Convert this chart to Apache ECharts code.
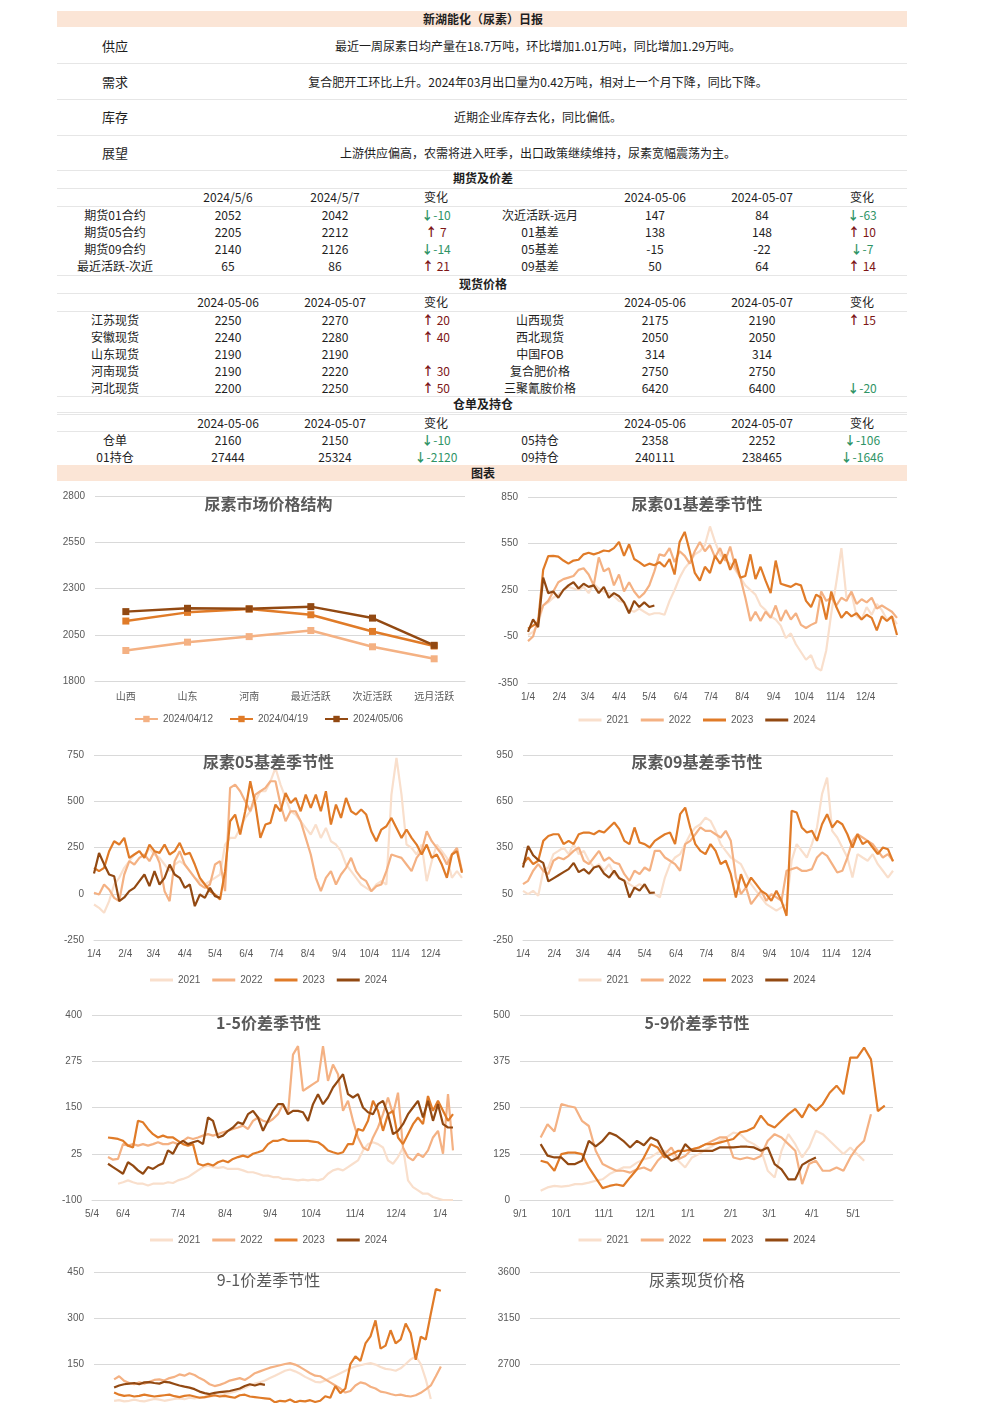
<!DOCTYPE html>
<html><head><meta charset="utf-8">
<script src="https://cdn.jsdelivr.net/npm/echarts@6/dist/echarts.min.js"></script>
<style>
html,body{margin:0;padding:0;background:#fff;}
#page{position:relative;width:992px;height:1560px;overflow:hidden;font-family:"Noto Sans CJK SC","Noto Sans",sans-serif;}
.t{position:absolute;transform:translate(-50%,-50%);white-space:nowrap;font-size:12px;line-height:14px;color:#1e1e1e;}
.b{font-weight:bold;}
.ln{position:absolute;height:1px;background:#e6e6e6;}
.band{position:absolute;background:#FBE5D6;}
.ch{position:absolute;}
</style></head>
<body><div id="page"></div>
<script>
// ===================== DATA =====================
const REPORT_TITLE = '新湖能化（尿素）日报';
const SUMMARY_LABELS = ['供应','需求','库存','展望'];
const SUMMARY_TEXTS = [
  '最近一周尿素日均产量在18.7万吨，环比增加1.01万吨，同比增加1.29万吨。',
  '复合肥开工环比上升。2024年03月出口量为0.42万吨，相对上一个月下降，同比下降。',
  '近期企业库存去化，同比偏低。',
  '上游供应偏高，农需将进入旺季，出口政策继续维持，尿素宽幅震荡为主。'
];
const SECTION_TITLES = ['期货及价差','现货价格','仓单及持仓','图表'];

const FUT_HEAD_L = ['2024/5/6','2024/5/7','变化'];
const FUT_ROWS_L = [['期货01合约',2052,2042,-10],['期货05合约',2205,2212,7],['期货09合约',2140,2126,-14],['最近活跃-次近',65,86,21]];
const FUT_HEAD_R = ['2024-05-06','2024-05-07','变化'];
const FUT_ROWS_R = [['次近活跃-远月',147,84,-63],['01基差',138,148,10],['05基差',-15,-22,-7],['09基差',50,64,14]];

const SPOT_HEAD_L = ['2024-05-06','2024-05-07','变化'];
const SPOT_ROWS_L = [['江苏现货',2250,2270,20],['安徽现货',2240,2280,40],['山东现货',2190,2190,null],['河南现货',2190,2220,30],['河北现货',2200,2250,50]];
const SPOT_HEAD_R = ['2024-05-06','2024-05-07','变化'];
const SPOT_ROWS_R = [['山西现货',2175,2190,15],['西北现货',2050,2050,null],['中国FOB',314,314,null],['复合肥价格',2750,2750,null],['三聚氰胺价格',6420,6400,-20]];

const WH_HEAD_L = ['2024-05-06','2024-05-07','变化'];
const WH_ROWS_L = [['仓单',2160,2150,-10],['01持仓',27444,25324,-2120]];
const WH_HEAD_R = ['2024-05-06','2024-05-07','变化'];
const WH_ROWS_R = [['05持仓',2358,2252,-106],['09持仓',240111,238465,-1646]];

// chart 1: price structure
const STRUCT_CATS = ['山西','山东','河南','最近活跃','次近活跃','远月活跃'];
const STRUCT_NAMES = ['2024/04/12','2024/04/19','2024/05/06'];
const STRUCT_0412 = [1965,2010,2040,2073,1985,1920];
const STRUCT_0419 = [2124,2171,2189,2158,2068,1989];
const STRUCT_0506 = [2175,2193,2190,2202,2140,1993];
const STRUCT_YTICKS = [1800,2050,2300,2550,2800];

const YEARS = ['2021','2022','2023','2024'];
const STEP = 5;
const MONTH4_POS = [0,31,59,90,120,151,181,212,243,273,304,334];
const MONTH4_LBL = ['1/4','2/4','3/4','4/4','5/4','6/4','7/4','8/4','9/4','10/4','11/4','12/4'];

// 01 basis
const B01_YTICKS = [-350,-50,250,550,850];
const B01_2021 = [-40,-20,30,150,170,200,220,250,270,260,250,270,230,290,260,240,230,210,180,170,120,110,130,110,90,100,100,90,180,250,330,390,430,480,500,540,660,560,480,440,420,380,330,280,250,220,150,120,80,60,20,-60,-30,-100,-150,-200,-170,-250,-270,-140,100,300,520,200,230,80,60,140,90,160,120,60,80,30];
const B01_2022 = [-80,-50,60,150,180,240,300,320,330,340,380,390,350,280,460,370,390,280,350,240,300,240,200,230,280,370,480,470,520,430,500,470,420,500,560,500,540,460,520,440,530,400,330,200,50,110,50,110,70,150,50,120,60,100,25,5,25,40,240,180,200,150,200,180,240,160,190,170,200,130,150,130,110,70];
const B01_2023 = [0,20,40,380,468,470,465,440,420,440,445,480,490,480,490,505,500,520,560,470,545,450,430,405,420,410,430,400,450,350,560,625,500,360,310,400,360,470,420,480,380,450,330,340,480,320,400,310,230,440,290,280,270,290,280,180,140,220,200,60,240,140,70,110,80,100,60,90,70,-10,80,50,80,-40];
const B01_2024 = [-20,60,10,330,230,240,200,250,280,300,260,290,270,280,230,270,200,230,210,170,100,180,140,170,140,150];

// 05 basis
const B05_YTICKS = [-250,0,250,500,750];
const B05_2021 = [-58,-76,-103,-40,50,86,140,176,212,230,194,248,212,194,158,122,158,176,158,122,86,68,50,68,86,104,266,302,302,356,410,446,500,554,554,608,680,590,518,446,428,392,356,320,374,302,356,284,266,230,158,122,86,50,32,14,50,68,50,536,734,536,266,248,212,266,68,176,266,230,194,86,122,86];
const B05_2022 = [5,-4,50,23,-22,-40,104,176,158,194,212,176,230,167,14,-40,176,230,158,122,86,50,32,50,158,176,14,572,590,554,500,446,536,554,572,608,608,482,392,446,446,392,302,212,86,14,86,122,50,104,140,194,122,86,68,14,41,50,122,212,203,194,158,122,194,230,338,284,248,212,158,212,248,122];
const B05_2023 = [140,122,140,230,284,266,302,194,212,230,194,266,230,221,266,212,230,275,212,221,158,86,50,14,-4,-31,122,392,428,320,446,608,482,302,374,383,482,446,545,491,518,446,536,464,536,446,554,374,482,410,518,446,428,455,428,338,284,347,365,410,356,302,347,302,266,212,266,194,212,158,86,212,230,113];
const B05_2024 = [110,220,160,104,95,-40,-20,14,32,68,104,41,122,50,86,158,104,86,32,50,-67,-4,-22,32,-13,-22];

// 09 basis
const B09_YTICKS = [-250,50,350,650,950];
const B09_2021 = [69,48,69,37,199,220,307,328,350,307,372,307,328,264,220,242,199,242,177,155,134,112,91,112,91,69,48,26,155,242,285,307,372,436,480,501,544,523,458,372,328,285,264,242,177,112,69,26,-17,-38,-60,-38,-17,264,372,328,285,372,480,696,804,458,415,350,285,155,307,285,264,307,242,199,155,199];
const B09_2022 = [112,134,199,242,199,177,264,285,274,296,328,350,264,242,285,328,264,285,253,242,177,134,199,177,220,199,328,328,285,264,242,199,372,393,436,480,458,458,436,415,458,393,155,48,91,-17,26,69,4,48,26,4,199,210,220,199,199,210,285,318,296,242,188,199,285,393,436,415,393,372,328,285,307,264];
const B09_2023 = [242,285,242,264,393,425,436,436,372,393,372,436,447,447,436,458,447,480,512,469,393,372,480,382,372,350,393,415,436,447,372,566,609,480,372,328,307,372,328,242,264,177,26,177,91,155,112,69,48,4,69,4,-93,588,577,480,447,458,393,501,566,480,523,501,436,350,436,372,393,350,307,350,339,260];
const B09_2024 = [220,360,300,270,250,130,150,170,190,210,250,190,210,180,220,230,180,155,200,150,134,26,90,70,112,55,58];

// 1-5 spread
const S15_YTICKS = [-100,25,150,275,400];
const S15_XPOS = [0,31,86,133,178,219,263,304,348];
const S15_XLBL = ['5/4','6/4','7/4','8/4','9/4','10/4','11/4','12/4','1/4'];
const S15_START = [26,16,16,16];
const S15_2021 = [-56,-52,-47,-52,-56,-56,-61,-56,-56,-56,-52,-54,-47,-43,-38,-29,-20,-11,-7,-11,-13,-11,-16,-16,-16,-20,-25,-25,-29,-34,-34,-38,-38,-43,-43,-45,-47,-45,-47,-45,-47,-43,-29,-20,-16,-20,-11,-2,7,34,51,56,51,42,7,-2,16,42,-47,-65,-74,-83,-83,-92,-96,-100,-100,-100];
const S15_2022 = [16,9,11,51,47,51,47,51,47,51,56,51,51,56,51,60,69,65,69,74,78,74,78,83,87,92,96,101,92,114,123,114,110,119,132,159,132,293,316,195,204,213,222,316,222,266,240,141,168,114,69,42,34,69,96,132,177,132,190,42,16,7,25,16,34,69,87,25,186,34];
const S15_2023 = [69,67,65,60,47,42,114,110,92,78,69,74,69,69,60,51,47,51,-2,-7,-2,-7,2,7,2,11,16,20,16,25,29,34,51,60,60,65,60,60,60,60,60,58,56,47,34,29,25,29,51,51,92,87,114,168,141,87,132,141,69,51,78,105,123,105,181,141,168,141,114,132];
const S15_2024 = [-2,-11,-20,-29,2,-7,-20,-29,-11,-16,-7,-1,34,25,51,60,51,56,60,51,123,114,69,74,87,96,110,105,132,141,123,87,114,141,159,159,132,141,141,137,114,159,186,159,177,204,222,240,186,177,186,150,137,132,159,168,132,78,87,105,132,150,168,123,168,114,159,105,96,96];

// 5-9 spread
const S59_YTICKS = [0,125,250,375,500];
const S59_XPOS = [0,30,61,91,122,153,181,212,242];
const S59_XLBL = ['9/1','10/1','11/1','12/1','1/1','2/1','3/1','4/1','5/1'];
const S59_START = 15;
const S59_2021 = [25,34,38,36,38,43,43,47,52,56,70,79,88,88,101,110,115,128,133,124,106,88,115,124,137,146,160,169,182,178,160,151,137,79,61,133,178,151,115,142,187,178,160,142,124,142,124,106];
const S59_2022 = [169,205,185,259,254,250,214,200,133,97,88,79,79,74,83,88,79,106,124,142,110,119,137,142,151,160,169,169,115,110,115,110,119,160,178,169,151,133,43,97,106,79,79,88,79,115,142,160,232];
const S59_2023 = [106,101,79,124,128,128,124,88,60,32,38,42,38,61,83,115,151,142,115,124,133,133,137,142,151,151,155,160,165,183,187,196,228,205,196,214,232,246,223,259,241,259,290,309,286,385,385,412,380,240,255];
const S59_2024 = [151,120,115,115,97,97,106,160,145,160,182,174,160,142,160,148,169,160,124,106,115,151,133,133,133,133,142,142,142,144,144,142,133,142,97,83,56,56,95,106,115];

// 9-1 spread
const S91_YTICKS = [-150,0,150,300,450];
const S91_START = 20;
const S91_2021 = [30,32,28,30,34,30,28,32,36,34,30,33,36,38,35,40,38,42,40,44,46,48,52,56,60,66,72,80,86,90,96,104,112,120,128,132,126,118,108,100,92,90,96,104,112,120,128,136,142,146,150,153,148,140,134,132,128,136,150,165,175,150,100,36];
const S91_2022 = [100,110,95,88,84,90,86,92,98,100,96,104,108,116,112,120,114,104,96,84,78,82,88,96,100,104,98,108,120,126,132,138,142,146,150,153,148,140,130,120,112,110,100,90,80,70,57,62,80,90,86,76,70,60,57,52,48,50,46,44,48,56,67,80,110,142];
const S91_2023 = [57,50,46,48,44,46,50,47,44,46,48,50,45,42,46,48,44,40,42,45,48,44,46,43,40,48,50,44,42,40,38,36,25,30,28,34,25,30,28,32,26,30,45,40,78,55,70,150,175,160,217,240,292,200,210,260,217,230,282,250,164,239,230,314,394,389];
const S91_2024 = [73,80,84,86,88,84,90,91,88,86,92,90,85,80,76,73,68,60,55,52,56,58,60,62,66,70,78,84,80,85,82];

// spot price chart
const SPOT_YTICKS = [1800,2250,2700,3150,3600];

// ===================== LAYOUT / RENDER =====================
const FONT = '"Noto Sans CJK SC","Noto Sans",sans-serif';
const page = document.getElementById('page');
function put(x, y, html, cls, style){
  const d = document.createElement('div');
  d.className = 't' + (cls ? ' ' + cls : '');
  d.style.left = x + 'px'; d.style.top = y + 'px';
  d.innerHTML = html;
  if (style) Object.assign(d.style, style);
  page.appendChild(d);
}
function hline(y){ const d=document.createElement('div'); d.className='ln'; d.style.left='57px'; d.style.width='850px'; d.style.top=y+'px'; page.appendChild(d); }
function band(y0,y1){ const d=document.createElement('div'); d.className='band'; d.style.left='57px'; d.style.width='850px'; d.style.top=y0+'px'; d.style.height=(y1-y0)+'px'; page.appendChild(d); }
function chg(v){
  if (v === null || v === undefined) return '';
  if (v > 0) return '<span style="color:#7d1616"><b>↑</b>&nbsp;' + v + '</span>';
  return '<span style="color:#2f9466"><b>↓</b>' + v + '</span>';
}

band(11, 27); put(483, 19, REPORT_TITLE, 'b');
const SUM_Y = [46, 82, 117, 153];
SUMMARY_LABELS.forEach((l,i)=>{ put(115, SUM_Y[i], l, '', {fontSize:'13px'}); put(538, SUM_Y[i], SUMMARY_TEXTS[i]); });
[63, 99, 135, 170].forEach(hline);

const COLS_L = [115, 228, 335, 436];
const COLS_R = [540, 655, 762, 862];
function tableBlock(titleY, title, lines, headY, rowYs, headL, rowsL, headR, rowsR){
  put(483, titleY, title, 'b');
  lines.forEach(hline);
  headL.forEach((h,i)=>put(COLS_L[i+1], headY, h));
  headR.forEach((h,i)=>put(COLS_R[i+1], headY, h));
  rowsL.forEach((r,j)=>{ put(COLS_L[0], rowYs[j], r[0]); put(COLS_L[1], rowYs[j], r[1]); put(COLS_L[2], rowYs[j], r[2]); put(COLS_L[3], rowYs[j], chg(r[3])); });
  rowsR.forEach((r,j)=>{ put(COLS_R[0], rowYs[j], r[0]); put(COLS_R[1], rowYs[j], r[1]); put(COLS_R[2], rowYs[j], r[2]); put(COLS_R[3], rowYs[j], chg(r[3])); });
}
tableBlock(178, SECTION_TITLES[0], [188, 206, 275], 197, [215,232,249,266], FUT_HEAD_L, FUT_ROWS_L, FUT_HEAD_R, FUT_ROWS_R);
tableBlock(284, SECTION_TITLES[1], [293, 311, 396], 302, [320,337,354,371,388], SPOT_HEAD_L, SPOT_ROWS_L, SPOT_HEAD_R, SPOT_ROWS_R);
tableBlock(404, SECTION_TITLES[2], [412, 414, 431], 423, [440,457], WH_HEAD_L, WH_ROWS_L, WH_HEAD_R, WH_ROWS_R);
band(465, 481); put(483, 473, SECTION_TITLES[3], 'b');

// chart containers
function box(x, y, w, h){ const d=document.createElement('div'); d.className='ch'; d.style.left=x+'px'; d.style.top=y+'px'; d.style.width=w+'px'; d.style.height=h+'px'; page.appendChild(d); return d; }
const GRAY = '#595959';
const TITLE_STYLE = {fontFamily:FONT, fontWeight:'bold', fontSize:16, color:GRAY};
function yAx(ticks){
  return {type:'value', min:ticks[0], max:ticks[ticks.length-1],
    axisLine:{show:false}, axisTick:{show:false, customValues:ticks},
    axisLabel:{customValues:ticks, formatter:(v)=>String(v), color:GRAY, fontSize:10, margin:10, fontFamily:'Liberation Sans'},
    splitLine:{show:true, lineStyle:{color:'#d9d9d9', width:1}}};
}
function xAx(pos, lbl, max, showLbl){
  return {type:'value', min:0, max:max,
    axisLine:{show:true, onZero:false, lineStyle:{color:'#d9d9d9'}},
    axisTick:{show:false, customValues:pos},
    axisLabel:{show:showLbl!==false, customValues:pos, formatter:(v)=>{const k=pos.indexOf(v); return k>=0?lbl[k]:'';}, color:GRAY, fontSize:10, margin:9, fontFamily:'Liberation Sans'},
    splitLine:{show:false}};
}
const SEASON_COLORS = ['#F9DFCC','#F4B183','#E07B28','#924912'];
function pairs(start, vals){ return vals.map((v,i)=>[start + i*STEP, v]); }
function seasonal(el, cfg){
  const c = echarts.init(el);
  c.setOption({
    animation:false,
    textStyle:{fontFamily:FONT},
    title:{text:cfg.title, left:'center', top:cfg.titleTop, textStyle:Object.assign({}, TITLE_STYLE, cfg.titleStyle||{})},
    grid:cfg.grid,
    legend:{top:cfg.legendTop, left:'center', icon:'rect', itemWidth:23, itemHeight:3, itemGap:12, data:YEARS,
      textStyle:{color:GRAY, fontSize:10, fontFamily:'Liberation Sans'}},
    xAxis:xAx(cfg.xPos, cfg.xLbl, cfg.xMax, cfg.showX),
    yAxis:yAx(cfg.yTicks),
    series:cfg.series.map((s,i)=>({name:YEARS[i], type:'line', symbol:'none', clip:true, data:pairs(s[0], s[1]),
      lineStyle:{width:2.2, color:SEASON_COLORS[i]}, itemStyle:{color:SEASON_COLORS[i]}}))
  });
}

// chart 1
(function(){
  const el = box(57, 485, 423, 260);
  const c = echarts.init(el);
  const cols = ['#F4B183','#E07B28','#924912'];
  const vals = [STRUCT_0412, STRUCT_0419, STRUCT_0506];
  c.setOption({
    animation:false,
    textStyle:{fontFamily:FONT},
    title:{text:'尿素市场价格结构', left:'center', top:6, textStyle:TITLE_STYLE},
    grid:{left:38, right:15, top:11, height:185},
    legend:{top:224, left:'center', itemWidth:23, itemHeight:8, itemGap:16, data:STRUCT_NAMES,
      textStyle:{color:GRAY, fontSize:10, fontFamily:'Liberation Sans'}},
    xAxis:{type:'category', data:STRUCT_CATS, boundaryGap:true,
      axisLine:{onZero:false, lineStyle:{color:'#d9d9d9'}}, axisTick:{show:false},
      axisLabel:{color:GRAY, fontSize:10, margin:10, fontFamily:FONT}},
    yAxis:yAx(STRUCT_YTICKS),
    series:vals.map((v,i)=>({name:STRUCT_NAMES[i], type:'line', data:v, symbol:'rect', symbolSize:7,
      lineStyle:{width:2.5, color:cols[i]}, itemStyle:{color:cols[i]}}))
  });
})();

seasonal(box(487, 485, 420, 260), {title:'尿素01基差季节性', titleTop:6, grid:{left:41, width:369, top:12, height:186}, legendTop:225,
  xPos:MONTH4_POS, xLbl:MONTH4_LBL, xMax:365, yTicks:B01_YTICKS,
  series:[[0,B01_2021],[0,B01_2022],[0,B01_2023],[0,B01_2024]]});

seasonal(box(57, 745, 423, 260), {title:'尿素05基差季节性', titleTop:4, grid:{left:37, width:368, top:10, height:185}, legendTop:225,
  xPos:MONTH4_POS, xLbl:MONTH4_LBL, xMax:365, yTicks:B05_YTICKS,
  series:[[0,B05_2021],[0,B05_2022],[0,B05_2023],[0,B05_2024]]});

seasonal(box(487, 745, 420, 260), {title:'尿素09基差季节性', titleTop:4, grid:{left:36, width:370, top:10, height:185}, legendTop:225,
  xPos:MONTH4_POS, xLbl:MONTH4_LBL, xMax:365, yTicks:B09_YTICKS,
  series:[[0,B09_2021],[0,B09_2022],[0,B09_2023],[0,B09_2024]]});

seasonal(box(57, 1005, 423, 260), {title:'1-5价差季节性', titleTop:5, grid:{left:35, width:370, top:10, height:185}, legendTop:225,
  xPos:S15_XPOS, xLbl:S15_XLBL, xMax:370, yTicks:S15_YTICKS,
  series:[[S15_START[0],S15_2021],[S15_START[1],S15_2022],[S15_START[2],S15_2023],[S15_START[3],S15_2024]]});

seasonal(box(487, 1005, 420, 260), {title:'5-9价差季节性', titleTop:5, grid:{left:33, width:373, top:10, height:185}, legendTop:225,
  xPos:S59_XPOS, xLbl:S59_XLBL, xMax:271, yTicks:S59_YTICKS,
  series:[[S59_START,S59_2021],[S59_START,S59_2022],[S59_START,S59_2023],[S59_START,S59_2024]]});

seasonal(box(57, 1262, 423, 260), {title:'9-1价差季节性', titleTop:5, titleStyle:{fontWeight:'normal'}, grid:{left:37, width:372, top:10, height:184}, legendTop:225,
  xPos:[0], xLbl:[''], xMax:370, showX:false, yTicks:S91_YTICKS,
  series:[[S91_START,S91_2021],[S91_START,S91_2022],[S91_START,S91_2023],[S91_START,S91_2024]]});

(function(){
  const c = echarts.init(box(487, 1262, 420, 260));
  c.setOption({
    animation:false,
    textStyle:{fontFamily:FONT},
    title:{text:'尿素现货价格', left:'center', top:5, textStyle:Object.assign({}, TITLE_STYLE, {fontWeight:'normal'})},
    grid:{left:43, width:370, top:10, height:184},
    xAxis:xAx([0], [''], 370, false),
    yAxis:yAx(SPOT_YTICKS),
    series:[]
  });
})();
</script></body></html>
